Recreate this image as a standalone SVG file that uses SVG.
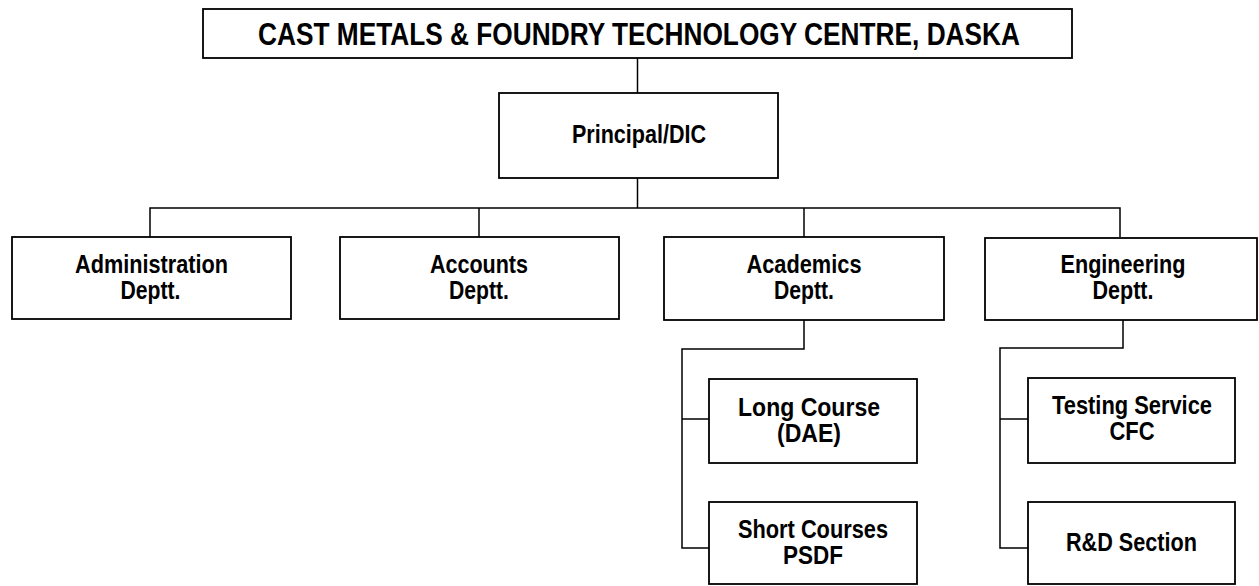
<svg xmlns="http://www.w3.org/2000/svg" width="1259" height="586" viewBox="0 0 1259 586">
<style>
  .box { fill: #ffffff; stroke: #000000; stroke-width: 1.8; }
  .ln { fill: none; stroke: #000000; stroke-width: 1.5; }
  text { font-family: "Liberation Sans", Arial, sans-serif; font-weight: bold; fill: #000000; text-anchor: middle; }
  .t { font-size: 31px; }
  .p { font-size: 26px; }
  .d { font-size: 25px; }
  .s { font-size: 25px; }
</style>
<rect x="0" y="0" width="1259" height="586" fill="#ffffff"/>
<g id="connectors">
  <path class="ln" d="M637.5 58 V93"/>
  <path class="ln" d="M637.5 178 V208"/>
  <path class="ln" d="M150 237 V208 H1120 V237"/>
  <path class="ln" d="M479 208 V237"/>
  <path class="ln" d="M804 208 V237"/>
  <path class="ln" d="M804 320 V349 H682 V548 H709"/>
  <path class="ln" d="M682 419 H709"/>
  <path class="ln" d="M1123 320 V348 H1000 V548 H1028"/>
  <path class="ln" d="M1000 419 H1028"/>
</g>
<g id="title">
  <rect class="box" x="203" y="9" width="869" height="49"/>
  <text class="t" x="639" y="45" textLength="762" lengthAdjust="spacingAndGlyphs">CAST METALS &amp; FOUNDRY TECHNOLOGY CENTRE, DASKA</text>
</g>
<g id="principal">
  <rect class="box" x="499" y="93" width="279" height="85"/>
  <text class="p" x="639" y="143" textLength="134" lengthAdjust="spacingAndGlyphs">Principal/DIC</text>
</g>
<g id="administration">
  <rect class="box" x="12" y="237" width="279" height="82"/>
  <text class="d" x="151.5" y="273" textLength="153" lengthAdjust="spacingAndGlyphs">Administration</text>
  <text class="d" x="150.5" y="299" textLength="60" lengthAdjust="spacingAndGlyphs">Deptt.</text>
</g>
<g id="accounts">
  <rect class="box" x="340" y="237" width="279" height="82"/>
  <text class="d" x="479" y="273" textLength="98" lengthAdjust="spacingAndGlyphs">Accounts</text>
  <text class="d" x="479" y="299" textLength="60" lengthAdjust="spacingAndGlyphs">Deptt.</text>
</g>
<g id="academics">
  <rect class="box" x="664" y="237" width="280" height="83"/>
  <text class="d" x="804" y="273" textLength="115" lengthAdjust="spacingAndGlyphs">Academics</text>
  <text class="d" x="804" y="299" textLength="60" lengthAdjust="spacingAndGlyphs">Deptt.</text>
</g>
<g id="engineering">
  <rect class="box" x="985" y="238" width="272" height="82"/>
  <text class="d" x="1123" y="273" textLength="125" lengthAdjust="spacingAndGlyphs">Engineering</text>
  <text class="d" x="1123" y="299" textLength="61" lengthAdjust="spacingAndGlyphs">Deptt.</text>
</g>
<g id="long-course">
  <rect class="box" x="709" y="379" width="208" height="84"/>
  <text class="s" x="809" y="416" textLength="142" lengthAdjust="spacingAndGlyphs">Long Course</text>
  <text class="s" x="809" y="442" textLength="64" lengthAdjust="spacingAndGlyphs">(DAE)</text>
</g>
<g id="short-courses">
  <rect class="box" x="709" y="502" width="208" height="82"/>
  <text class="s" x="813" y="538" textLength="150" lengthAdjust="spacingAndGlyphs">Short Courses</text>
  <text class="s" x="813" y="564" textLength="60" lengthAdjust="spacingAndGlyphs">PSDF</text>
</g>
<g id="testing-service">
  <rect class="box" x="1028" y="378" width="207" height="85"/>
  <text class="s" x="1132" y="414" textLength="160" lengthAdjust="spacingAndGlyphs">Testing Service</text>
  <text class="s" x="1132" y="440" textLength="45" lengthAdjust="spacingAndGlyphs">CFC</text>
</g>
<g id="rd-section">
  <rect class="box" x="1028" y="502" width="207" height="82"/>
  <text class="s" x="1131.5" y="551" textLength="131" lengthAdjust="spacingAndGlyphs">R&amp;D Section</text>
</g>
</svg>
